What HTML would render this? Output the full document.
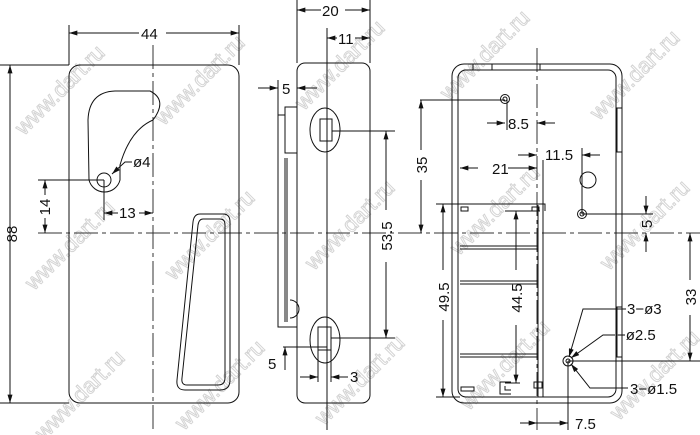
<!DOCTYPE html>
<html><head><meta charset="utf-8"><style>body{margin:0;background:#fff}svg{display:block}text{font-family:"Liberation Sans",sans-serif;font-size:15px;fill:#111}.w{font-size:22px;fill:none;stroke:#d4d4d4;stroke-width:1}</style></head><body>
<svg width="700" height="435" viewBox="0 0 700 435" xmlns="http://www.w3.org/2000/svg">
<defs><marker id="a" viewBox="0 0 10 6" refX="10" refY="3" markerWidth="9" markerHeight="5" orient="auto-start-reverse"><path d="M0,0L10,3L0,6z" fill="#111"/></marker></defs>
<g>
<text class="w" transform="translate(65,95) rotate(-45)" text-anchor="middle">www.dart.ru</text>
<text class="w" transform="translate(205,85) rotate(-45)" text-anchor="middle">www.dart.ru</text>
<text class="w" transform="translate(345,70) rotate(-45)" text-anchor="middle">www.dart.ru</text>
<text class="w" transform="translate(490,60) rotate(-45)" text-anchor="middle">www.dart.ru</text>
<text class="w" transform="translate(640,80) rotate(-45)" text-anchor="middle">www.dart.ru</text>
<text class="w" transform="translate(75,250) rotate(-45)" text-anchor="middle">www.dart.ru</text>
<text class="w" transform="translate(215,240) rotate(-45)" text-anchor="middle">www.dart.ru</text>
<text class="w" transform="translate(355,230) rotate(-45)" text-anchor="middle">www.dart.ru</text>
<text class="w" transform="translate(500,215) rotate(-45)" text-anchor="middle">www.dart.ru</text>
<text class="w" transform="translate(650,230) rotate(-45)" text-anchor="middle">www.dart.ru</text>
<text class="w" transform="translate(85,400) rotate(-45)" text-anchor="middle">www.dart.ru</text>
<text class="w" transform="translate(225,390) rotate(-45)" text-anchor="middle">www.dart.ru</text>
<text class="w" transform="translate(365,385) rotate(-45)" text-anchor="middle">www.dart.ru</text>
<text class="w" transform="translate(510,370) rotate(-45)" text-anchor="middle">www.dart.ru</text>
<text class="w" transform="translate(660,380) rotate(-45)" text-anchor="middle">www.dart.ru</text>
</g>
<g stroke="#111" stroke-width="1" fill="none">
<line x1="38" y1="233" x2="700" y2="233" stroke-dasharray="24,4,4,4" stroke="#333"/>
<line x1="153" y1="45" x2="153" y2="430" stroke-dasharray="24,4,4,4" stroke="#333"/>
<line x1="537" y1="48" x2="537" y2="430" stroke-dasharray="24,4,4,4" stroke="#333"/>
<rect x="69" y="65" width="170" height="338" rx="11"/>
<line x1="69" y1="25" x2="69" y2="65"/><line x1="239" y1="25" x2="239" y2="65"/>
<line x1="69" y1="33" x2="139" y2="33" marker-start="url(#a)"/><line x1="166" y1="33" x2="239" y2="33" marker-end="url(#a)"/>
<line x1="0" y1="65" x2="69" y2="65"/><line x1="0" y1="403" x2="69" y2="403"/>
<line x1="10" y1="65" x2="10" y2="403" marker-start="url(#a)" marker-end="url(#a)"/>
<path d="M89,180 L88,120 Q89,92 115,91 L150,91 Q168,100 153,120 Q130,130 120,165 L120,180 A16,16 0 0 1 89,180 Z"/>
<circle cx="104" cy="180" r="7"/>
<line x1="38" y1="180" x2="104" y2="180"/><line x1="104" y1="180" x2="104" y2="220"/>
<line x1="45" y1="180" x2="45" y2="195" marker-start="url(#a)"/><line x1="45" y1="218" x2="45" y2="233" marker-end="url(#a)"/>
<line x1="104" y1="213" x2="118" y2="213" marker-start="url(#a)"/><line x1="139" y1="213" x2="153" y2="213" marker-end="url(#a)"/>
<polyline points="132,162 125,162 112,174" marker-end="url(#a)"/>
<path d="M200,214 L223,214 Q230,214 230,222 L230,380 Q230,390 220,390 L185,390 Q176,390 177,380 L193,222 Q194,214 200,214 Z"/>
<path d="M203,219 L220,219 Q225,219 225,225 L225,378 Q225,385 218,385 L187,385 Q181,385 182,378 L198,225 Q199,219 203,219 Z"/>
<rect x="297" y="63" width="73" height="340" rx="8"/>
<line x1="297" y1="0" x2="297" y2="63"/><line x1="370" y1="0" x2="370" y2="63"/>
<line x1="297" y1="10" x2="321" y2="10" marker-start="url(#a)"/><line x1="345" y1="10" x2="370" y2="10" marker-end="url(#a)"/>
<line x1="327" y1="28" x2="327" y2="430"/>
<line x1="327" y1="38" x2="337" y2="38" marker-start="url(#a)"/><line x1="355" y1="38" x2="370" y2="38" marker-end="url(#a)"/>
<polyline points="285,115 278,115 278,327 297,327"/>
<rect x="285" y="107" width="12" height="46"/>
<line x1="285" y1="158" x2="285" y2="322"/><line x1="287" y1="158" x2="287" y2="322"/>
<path d="M290,300 A9,9 0 0 1 290,318"/>
<line x1="258" y1="88" x2="278" y2="88" marker-end="url(#a)"/><line x1="317" y1="88" x2="297" y2="88" marker-end="url(#a)"/>
<line x1="278" y1="80" x2="278" y2="115"/>
<ellipse cx="325" cy="130" rx="15" ry="22"/><rect x="320" y="119" width="12" height="22"/>
<line x1="332" y1="131" x2="395" y2="131"/>
<ellipse cx="325" cy="340" rx="15" ry="23"/><rect x="318" y="327" width="13" height="23"/>
<line x1="331" y1="338" x2="395" y2="338"/>
<line x1="386" y1="131" x2="386" y2="210" marker-start="url(#a)"/><line x1="386" y1="262" x2="386" y2="338" marker-end="url(#a)"/>
<line x1="283" y1="347" x2="327" y2="347"/>
<line x1="285" y1="370" x2="285" y2="347" marker-end="url(#a)"/>
<line x1="318" y1="338" x2="318" y2="382"/><line x1="331" y1="338" x2="331" y2="382"/>
<line x1="300" y1="377" x2="318" y2="377" marker-end="url(#a)"/><line x1="348" y1="377" x2="331" y2="377" marker-end="url(#a)"/>
<rect x="452" y="64" width="170" height="339" rx="12"/>
<rect x="458" y="70" width="158" height="327" rx="8"/>
<line x1="473" y1="64" x2="473" y2="70"/><line x1="492" y1="64" x2="492" y2="70"/><line x1="540" y1="64" x2="540" y2="70"/>
<rect x="617" y="108" width="5" height="44"/><rect x="617" y="307" width="5" height="50"/>
<line x1="420" y1="100" x2="505" y2="100"/>
<line x1="421" y1="100" x2="421" y2="150" marker-start="url(#a)"/><line x1="421" y1="180" x2="421" y2="233" marker-end="url(#a)"/>
<circle cx="505" cy="99" r="4.5"/><circle cx="505" cy="99" r="2"/>
<line x1="507" y1="99" x2="507" y2="130"/>
<line x1="487" y1="123" x2="505" y2="123" marker-end="url(#a)"/><line x1="555" y1="123" x2="537" y2="123" marker-end="url(#a)"/>
<line x1="518" y1="155" x2="537" y2="155" marker-end="url(#a)"/><line x1="600" y1="155" x2="582" y2="155" marker-end="url(#a)"/>
<line x1="582" y1="148" x2="582" y2="214"/>
<circle cx="588" cy="180" r="8"/><circle cx="582" cy="214" r="4.5"/><circle cx="582" cy="214" r="2"/>
<line x1="582" y1="214" x2="653" y2="214"/>
<line x1="646" y1="196" x2="646" y2="214" marker-end="url(#a)"/><line x1="646" y1="252" x2="646" y2="233" marker-end="url(#a)"/>
<line x1="460" y1="168" x2="478" y2="168" marker-start="url(#a)"/><line x1="508" y1="168" x2="537" y2="168" marker-end="url(#a)"/>
<line x1="543" y1="160" x2="543" y2="397"/><line x1="538" y1="205" x2="538" y2="397"/>
<polyline points="436,204 545,204 545,211"/>
<line x1="460" y1="246" x2="538" y2="246"/><line x1="460" y1="249" x2="538" y2="249"/>
<line x1="460" y1="281" x2="538" y2="281"/><line x1="460" y1="284" x2="538" y2="284"/>
<line x1="460" y1="354" x2="538" y2="354"/><line x1="460" y1="357" x2="538" y2="357"/>
<rect x="461" y="207" width="7" height="4"/><rect x="532" y="207" width="7" height="4"/>
<rect x="461" y="387" width="13" height="4"/><path d="M511,382 L500,382 L500,394 L511,394 M505,386 L505,390 L511,390"/>
<rect x="534" y="382" width="8" height="6"/>
<line x1="436" y1="397" x2="460" y2="397"/>
<line x1="443" y1="204" x2="443" y2="270" marker-start="url(#a)"/><line x1="443" y1="320" x2="443" y2="397" marker-end="url(#a)"/>
<line x1="516" y1="211" x2="516" y2="270" marker-start="url(#a)"/><line x1="516" y1="325" x2="516" y2="383" marker-end="url(#a)"/>
<line x1="505" y1="211" x2="540" y2="211"/><line x1="505" y1="383" x2="520" y2="383"/>
<circle cx="568" cy="361" r="5"/><circle cx="568" cy="361" r="2"/>
<line x1="568" y1="361" x2="700" y2="361"/><line x1="568" y1="361" x2="568" y2="430"/>
<line x1="690" y1="233" x2="690" y2="280" marker-start="url(#a)"/><line x1="690" y1="315" x2="690" y2="361" marker-end="url(#a)"/>
<polyline points="626,309 583,309 569,357" marker-end="url(#a)"/>
<polyline points="615,335 603,335 571,358" marker-end="url(#a)"/>
<polyline points="628,388 590,388 571,364" marker-end="url(#a)"/>
<line x1="520" y1="423" x2="537" y2="423" marker-end="url(#a)"/><line x1="537" y1="423" x2="568" y2="423" marker-end="url(#a)"/>
</g>
<text x="141" y="39">44</text>
<text transform="translate(17,234) rotate(-90)" text-anchor="middle">88</text>
<text transform="translate(50,207) rotate(-90)" text-anchor="middle">14</text>
<text x="119" y="218">13</text>
<text x="133" y="167">ø4</text>
<text x="322" y="16">20</text>
<text x="338" y="44">11</text>
<text x="282" y="94">5</text>
<text transform="translate(392,236) rotate(-90)" text-anchor="middle">53.5</text>
<text x="268" y="369">5</text>
<text x="350" y="382">3</text>
<text transform="translate(427,165) rotate(-90)" text-anchor="middle">35</text>
<text x="508" y="129">8.5</text>
<text x="545" y="160">11.5</text>
<text x="492" y="174">21</text>
<text transform="translate(652,224) rotate(-90)" text-anchor="middle">5</text>
<text transform="translate(449,297) rotate(-90)" text-anchor="middle">49.5</text>
<text transform="translate(522,298) rotate(-90)" text-anchor="middle">44.5</text>
<text transform="translate(696,297) rotate(-90)" text-anchor="middle">33</text>
<text x="627" y="314">3−ø3</text>
<text x="617" y="340">−ø2.5</text>
<text x="630" y="394">3−ø1.5</text>
<text x="575" y="429">7.5</text>
</svg>
</body></html>
